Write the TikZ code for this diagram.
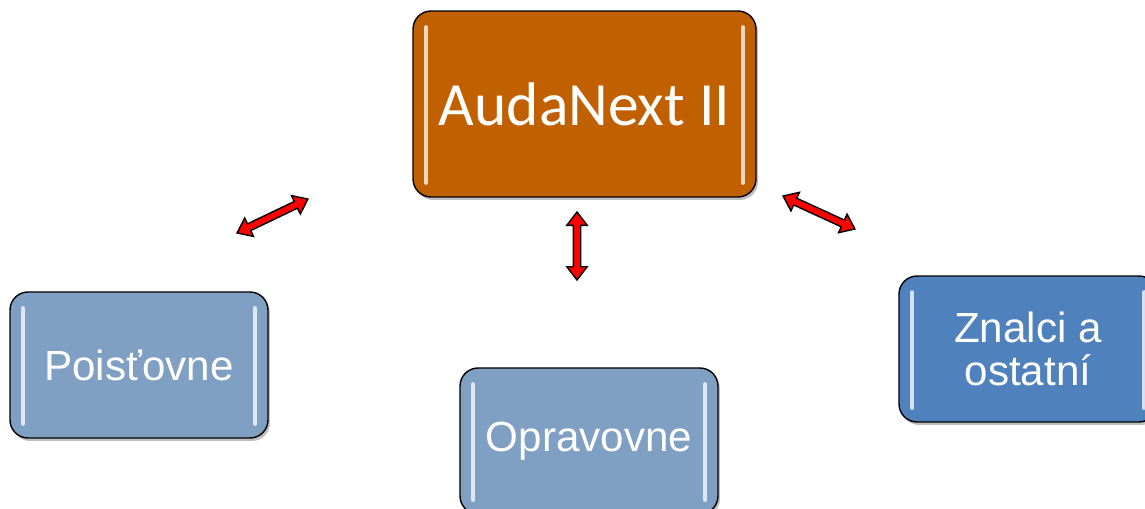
\documentclass[tikz,border=0pt]{standalone}
\usepackage{fontspec}
\setmainfont{Liberation Sans}
\newfontfamily\calibrifont{Carlito}
\usetikzlibrary{shapes.arrows,shadows}
\definecolor{audaorange}{RGB}{192,96,0}
\definecolor{greyblue}{RGB}{127,160,194}
\definecolor{midblue}{RGB}{79,129,189}
\tikzset{
  partner/.style={draw=black, line width=0.8pt, rounded corners=0.36cm, fill=#1, text=white,
    align=center, minimum width=5.16cm, minimum height=2.92cm,
    font=\fontsize{24}{24.5}\selectfont,
    drop shadow={shadow xshift=0.04cm, shadow yshift=-0.06cm, fill=black, opacity=0.25},
    path picture={\draw[line width=2.2pt, line cap=round, white!75!#1]
      ([xshift=0.26cm,yshift=-0.32cm]path picture bounding box.north west) --
      ([xshift=0.26cm,yshift=0.28cm]path picture bounding box.south west)
      ([xshift=-0.26cm,yshift=-0.32cm]path picture bounding box.north east) --
      ([xshift=-0.26cm,yshift=0.28cm]path picture bounding box.south east);}},
  hub/.style={partner=audaorange, minimum width=6.86cm, minimum height=3.72cm,
    font=\calibrifont\fontsize{35}{42}\selectfont},
  linkarrow/.style={double arrow, draw=black, line width=0.8pt, fill=red, inner xsep=0pt,
    inner ysep=0.06cm, minimum width=0.38cm, double arrow head extend=0.13cm,
    double arrow tip angle=75, sloped}
}
\begin{document}
\begin{tikzpicture}[x=0.02cm, y=-0.02cm]
  \useasboundingbox (0,0) rectangle (1145,508);

  \node[hub] (auda) at (584.5,104) {AudaNext II};
  \node[partner=greyblue] (pois) at (139,365) {Poisťovne};
  \node[partner=greyblue] (oprav) at (589,441) {Opravovne};
  \node[partner=midblue] (znal) at (1028,349) {Znalci a\\ostatní};

  % double arrows between the boxes
  \coordinate (left a) at (237,233);
  \coordinate (left b) at (308,199);
  \coordinate (mid a) at (577,212);
  \coordinate (mid b) at (577,280);
  \coordinate (right a) at (783,196);
  \coordinate (right b) at (855,229);

  \path (left a) -- node[linkarrow, minimum height=1.57cm] (left arrow) {} (left b);
  \path (mid a) -- node[linkarrow, minimum height=1.36cm] (mid arrow) {} (mid b);
  \path (right a) -- node[linkarrow, minimum height=1.58cm] (right arrow) {} (right b);

\end{tikzpicture}
\end{document}
